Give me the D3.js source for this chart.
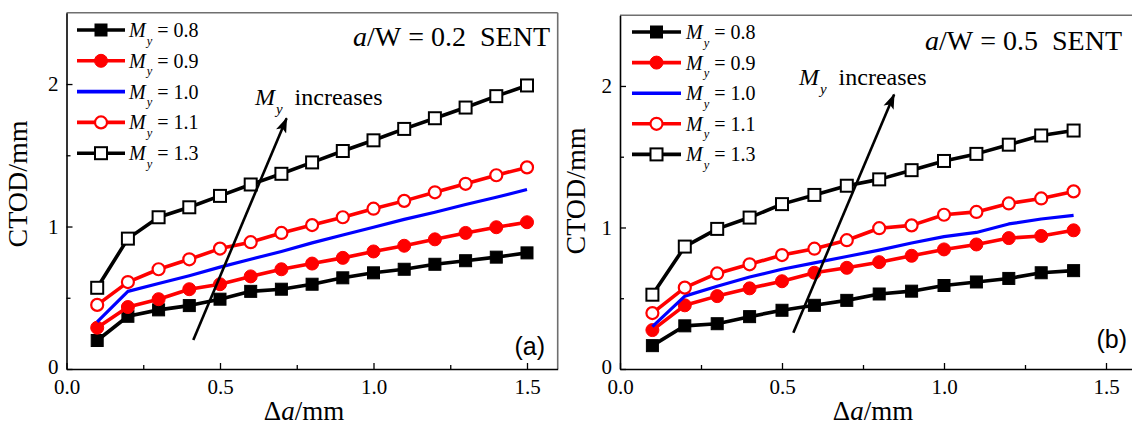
<!DOCTYPE html>
<html>
<head>
<meta charset="utf-8">
<script src="https://cdn.jsdelivr.net/npm/d3@7"></script>
<style>
  body { margin: 0; background: #fff; }
  svg { display: block; }
</style>
</head>
<body>
<svg id="ctodFigure" width="1132" height="425"></svg>
<script>
// Crack extension Δa (mm) and CTOD (mm) for each yield-strength mismatch ratio M_y
const crackExtA = [0.1, 0.2, 0.3, 0.4, 0.5, 0.6, 0.7, 0.8, 0.9, 1.0, 1.1, 1.2, 1.3, 1.4, 1.5];
const ctodA_08 = [0.20, 0.37, 0.415, 0.445, 0.49, 0.545, 0.56, 0.595, 0.64, 0.675, 0.70, 0.735, 0.76, 0.785, 0.815];
const ctodA_09 = [0.29, 0.435, 0.49, 0.56, 0.595, 0.65, 0.70, 0.74, 0.78, 0.825, 0.865, 0.91, 0.955, 0.995, 1.03];
const ctodA_10 = [0.33, 0.545, 0.60, 0.655, 0.715, 0.77, 0.825, 0.885, 0.94, 0.995, 1.05, 1.10, 1.155, 1.205, 1.26];
const ctodA_11 = [0.45, 0.61, 0.70, 0.77, 0.845, 0.89, 0.955, 1.01, 1.065, 1.125, 1.18, 1.24, 1.30, 1.36, 1.415];
const ctodA_13 = [0.57, 0.915, 1.065, 1.135, 1.215, 1.295, 1.37, 1.45, 1.53, 1.605, 1.685, 1.76, 1.835, 1.915, 1.99];

const crackExtB = [0.1, 0.2, 0.3, 0.4, 0.5, 0.6, 0.7, 0.8, 0.9, 1.0, 1.1, 1.2, 1.3, 1.4];
const ctodB_08 = [0.165, 0.305, 0.32, 0.37, 0.415, 0.45, 0.485, 0.53, 0.55, 0.59, 0.615, 0.64, 0.68, 0.695];
const ctodB_09 = [0.275, 0.45, 0.515, 0.57, 0.62, 0.68, 0.715, 0.755, 0.80, 0.845, 0.88, 0.925, 0.94, 0.98];
const ctodB_10 = [0.30, 0.515, 0.585, 0.65, 0.705, 0.75, 0.795, 0.84, 0.89, 0.935, 0.965, 1.025, 1.06, 1.085];
const ctodB_11 = [0.395, 0.575, 0.675, 0.74, 0.805, 0.85, 0.91, 0.995, 1.015, 1.09, 1.11, 1.17, 1.205, 1.255];
const ctodB_13 = [0.525, 0.865, 0.99, 1.07, 1.165, 1.23, 1.295, 1.34, 1.405, 1.47, 1.52, 1.585, 1.65, 1.685];

const mismatchLabels = ["0.8", "0.9", "1.0", "1.1", "1.3"];
const xMajorTicks = [0, 0.5, 1.0, 1.5];
const xMinorTicks = [0.25, 0.75, 1.25];
const xTickLabels = ["0.0", "0.5", "1.0", "1.5"];
const yMajorTicks = [0, 1, 2];
const yMinorTicks = [0.5, 1.5];
const yTickLabels = ["0", "1", "2"];

// Line / marker style per mismatch ratio
const styles = [
  { color: "#000", marker: "square", fill: "#000" },
  { color: "#f00", marker: "circle", fill: "#f00" },
  { color: "#00f", marker: "none",   fill: "none" },
  { color: "#f00", marker: "circle", fill: "#fff" },
  { color: "#000", marker: "square", fill: "#fff" }
];

const SERIF = '"Liberation Serif"';
const SANS = '"Liberation Sans"';
const font = (sel, fam, size) => sel
  .style("font-family", fam, "important")
  .style("font-size", size + "px");

const svg = d3.select("#ctodFigure");

const panels = [
  {
    x: crackExtA, series: [ctodA_08, ctodA_09, ctodA_10, ctodA_11, ctodA_13],
    xRange: [66.5, 557.7], yRange: [369, 12.8],
    yLabelPos: [27, 184], xLabelPos: [304, 420],
    legend: { x0: 77, x1: 125, tx: 129, y0: 30, dy: 30.8 },
    ratio: "0.2", ratioPos: [550, 46],
    tag: "(a)", tagPos: [545, 355],
    arrow: { from: [0.413, 0.204], to: [0.717, 1.76] },
    incPos: [255, 105]
  },
  {
    x: crackExtB, series: [ctodB_08, ctodB_09, ctodB_10, ctodB_11, ctodB_13],
    xRange: [620, 1138.4], yRange: [369, 15.2],
    yLabelPos: [585, 191], xLabelPos: [873, 420],
    legend: { x0: 632, x1: 681, tx: 686, y0: 32, dy: 30.6 },
    ratio: "0.5", ratioPos: [1122, 50],
    tag: "(b)", tagPos: [1127, 348],
    arrow: { from: [0.535, 0.256], to: [0.846, 1.94] },
    incPos: [799, 85]
  }
];

function drawMarker(g, kind, cx, cy, st) {
  if (kind === "square") {
    const s = 12;
    g.append("rect")
      .attr("x", cx - s / 2).attr("y", cy - s / 2)
      .attr("width", s).attr("height", s)
      .attr("fill", st.fill).attr("stroke", st.color)
      .attr("stroke-width", st.fill === "#fff" ? 2 : 1);
  } else if (kind === "circle") {
    g.append("circle")
      .attr("cx", cx).attr("cy", cy)
      .attr("r", st.fill === "#fff" ? 6 : 6.5)
      .attr("fill", st.fill).attr("stroke", st.color)
      .attr("stroke-width", st.fill === "#fff" ? 2.2 : 1);
  }
}

// M with italic subscript y
function mySymbol(textSel, size) {
  textSel.append("tspan").style("font-style", "italic").text("M");
  textSel.append("tspan").style("font-style", "italic")
    .style("font-size", (size * 0.62) + "px").attr("dy", size * 0.38).attr("dx", 1).text("y");
}

svg.append("defs").append("marker")
  .attr("id", "arrowHead")
  .attr("viewBox", "0 0 14 10")
  .attr("refX", 13).attr("refY", 5)
  .attr("markerWidth", 6.5).attr("markerHeight", 4.2)
  .attr("markerUnits", "strokeWidth")
  .attr("orient", "auto")
  .append("path").attr("d", "M0,0 L14,5 L0,10 L3,5 Z").attr("fill", "#000");

panels.forEach(p => {
  const x = d3.scaleLinear().domain([0, 1.6]).range(p.xRange);
  const y = d3.scaleLinear().domain([0, 2.5]).range(p.yRange);
  const g = svg.append("g");

  // frame: top and right edges
  g.append("line").attr("x1", p.xRange[0]).attr("x2", p.xRange[1])
    .attr("y1", p.yRange[1]).attr("y2", p.yRange[1])
    .attr("stroke", "#6f6f6f").attr("stroke-width", 1.6);
  g.append("line").attr("x1", p.xRange[1]).attr("x2", p.xRange[1])
    .attr("y1", p.yRange[0]).attr("y2", p.yRange[1])
    .attr("stroke", "#6f6f6f").attr("stroke-width", 1.6);

  // minor ticks
  g.append("g").attr("transform", `translate(0,${p.yRange[0]})`)
    .call(d3.axisBottom(x).tickValues(xMinorTicks).tickSize(-4).tickSizeOuter(0).tickFormat(""))
    .call(a => a.select(".domain").remove())
    .call(a => a.selectAll("line").attr("stroke-width", 1.3));
  g.append("g").attr("transform", `translate(${p.xRange[0]},0)`)
    .call(d3.axisLeft(y).tickValues(yMinorTicks).tickSize(-4).tickSizeOuter(0).tickFormat(""))
    .call(a => a.select(".domain").remove())
    .call(a => a.selectAll("line").attr("stroke-width", 1.3));

  // major axes
  const xa = g.append("g").attr("transform", `translate(0,${p.yRange[0]})`)
    .call(d3.axisBottom(x).tickValues(xMajorTicks).tickSize(-6).tickSizeOuter(0)
      .tickPadding(10).tickFormat((d, i) => xTickLabels[i]));
  const ya = g.append("g").attr("transform", `translate(${p.xRange[0]},0)`)
    .call(d3.axisLeft(y).tickValues(yMajorTicks).tickSize(-6).tickSizeOuter(0)
      .tickPadding(8).tickFormat((d, i) => yTickLabels[i]));
  [xa, ya].forEach(a => {
    a.attr("font-family", null).attr("font-size", null);
    a.select(".domain").attr("stroke", "#000").attr("stroke-width", 1.6);
    a.selectAll(".tick line").attr("stroke-width", 1.3);
    a.selectAll(".tick text").attr("fill", "#000").call(font, SERIF, 21);
  });
  // keep the origin labels apart
  ya.selectAll(".tick text").filter(d => d === 0).attr("dy", "0.2em");

  // axis titles
  g.append("text")
    .attr("transform", `translate(${p.yLabelPos[0]},${p.yLabelPos[1]}) rotate(-90)`)
    .attr("text-anchor", "middle").call(font, SERIF, 28)
    .text("CTOD/mm");
  const xt = g.append("text")
    .attr("x", p.xLabelPos[0]).attr("y", p.xLabelPos[1])
    .attr("text-anchor", "middle").call(font, SERIF, 27);
  xt.append("tspan").text("Δ");
  xt.append("tspan").style("font-style", "italic").text("a");
  xt.append("tspan").text("/mm");

  // series
  const line = d3.line().x(d => x(d[0])).y(d => y(d[1]));
  p.series.forEach((vals, si) => {
    const st = styles[si];
    const pts = p.x.map((xv, i) => [xv, vals[i]]);
    g.append("path").attr("d", line(pts))
      .attr("fill", "none").attr("stroke", st.color)
      .attr("stroke-width", st.marker === "none" ? 3.2 : 3.6)
      .attr("stroke-linejoin", "round");
    const mg = g.append("g");
    pts.forEach(pt => drawMarker(mg, st.marker, x(pt[0]), y(pt[1]), st));
  });

  // legend
  const L = p.legend;
  mismatchLabels.forEach((lab, i) => {
    const st = styles[i];
    const cy = L.y0 + i * L.dy;
    g.append("line").attr("x1", L.x0).attr("x2", L.x1).attr("y1", cy).attr("y2", cy)
      .attr("stroke", st.color).attr("stroke-width", 3.6);
    drawMarker(g, st.marker, (L.x0 + L.x1) / 2, cy, st);
    const t = g.append("text").attr("x", L.tx).attr("y", cy + 7).call(font, SERIF, 20);
    mySymbol(t, 20);
    t.append("tspan").attr("dy", -20 * 0.38).text("\u00a0=\u00a0" + lab);
  });

  // case annotation
  const rt = g.append("text").attr("x", p.ratioPos[0]).attr("y", p.ratioPos[1])
    .attr("text-anchor", "end").call(font, SERIF, 28);
  rt.append("tspan").style("font-style", "italic").text("a");
  rt.append("tspan").text("/W\u00a0=\u00a0" + p.ratio + "\u00a0\u00a0SENT");

  // panel tag
  g.append("text").attr("x", p.tagPos[0]).attr("y", p.tagPos[1])
    .attr("text-anchor", "end").call(font, SANS, 25)
    .text(p.tag);

  // trend arrow
  g.append("line")
    .attr("x1", x(p.arrow.from[0])).attr("y1", y(p.arrow.from[1]))
    .attr("x2", x(p.arrow.to[0])).attr("y2", y(p.arrow.to[1]))
    .attr("stroke", "#000").attr("stroke-width", 2.6)
    .attr("marker-end", "url(#arrowHead)");
  const it = g.append("text").attr("x", p.incPos[0]).attr("y", p.incPos[1])
    .call(font, SERIF, 24);
  mySymbol(it, 24);
  it.append("tspan").attr("dy", -24 * 0.38).text("\u00a0\u00a0increases");
});
</script>
</body>
</html>
